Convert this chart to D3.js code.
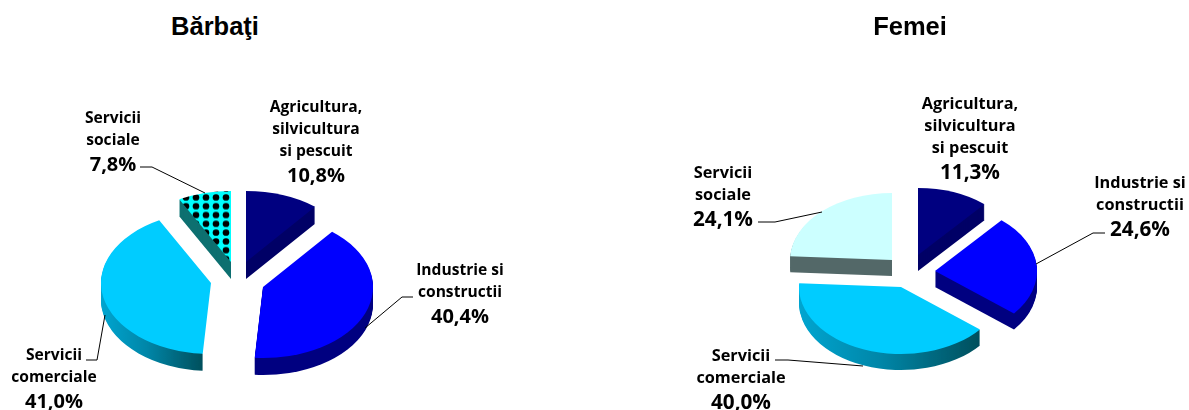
<!DOCTYPE html>
<html lang="en">

<head>
  <title></title>
  <meta charset="UTF-8">
  <style>
    body {
      margin: 0;
      background: #fff;
    }
    svg {
      display: block;
    }
    .title {
      font: bold 25.5px "Liberation Sans", Arial, sans-serif;
      text-anchor: middle;
    }
    .name {
      font-family: "Open Sans", sans-serif;
      font-weight: bold;
      text-anchor: middle;
    }
    .pct {
      font-family: "Open Sans", sans-serif;
      font-weight: bold;
      text-anchor: middle;
    }
  </style>
</head>

<body>
  <div id="container"></div>
  <script src="https://cdn.jsdelivr.net/npm/d3@7/dist/d3.min.js"></script>
  <script>
    const sectors = [
      ['Agricultura,', 'silvicultura', 'si pescuit'],
      ['Industrie si', 'constructii'],
      ['Servicii', 'comerciale'],
      ['Servicii', 'sociale']
    ];
    const barbatiValues = [10.8, 40.4, 41.0, 7.8];
    const femeiValues = [11.3, 24.6, 40.0, 24.1];

    const topColors = ['#000080', '#0000ff', '#00ccff', '#ccffff'];
    const wallColors = ['#000066', '#000080', 'url(#wallGrad)', '#536868'];

    // layout of the two pies, apex = tip of each exploded slice
    const charts = [{
      title: 'Bărbaţi',
      titleX: 215,
      values: barbatiValues,
      rx: 110,
      ry: 71,
      depth: 17,
      nameSize: 15.6,
      pctSize: 20,
      apex: [[246, 262], [263, 287], [211, 283], [231, 262]],
      order: [0, 3, 2, 1],
      rimOnly: [false, false, true, false],
      labels: [[316, 112], [460, 275], [54, 360], [113, 123]],
      leaders: [
        null,
        [[413, 297], [402, 297], [365, 328]],
        [[86, 360], [97, 360], [105, 315]],
        [[140, 167], [152, 167], [205, 193]]
      ],
      faces: ['#000080', '#0000ff', '#00ccff', 'url(#dots)'],
      walls: ['#000066', '#000080', 'url(#wallGrad)', '#0b6f70']
    }, {
      title: 'Femei',
      titleX: 910,
      values: femeiValues,
      rx: 102,
      ry: 67,
      depth: 16,
      nameSize: 16.3,
      pctSize: 20.7,
      apex: [[918, 255], [935, 271], [901, 287], [892, 260]],
      order: [0, 3, 1, 2],
      rimOnly: [false, false, false, false],
      labels: [[970, 109], [1140, 188], [741, 361], [723, 178]],
      leaders: [
        null,
        [[1105, 233], [1093, 233], [1036, 264]],
        [[775, 360], [788, 360], [863, 366]],
        [[758, 222], [775, 222], [822, 212]]
      ],
      faces: topColors,
      walls: wallColors
    }];

    const svg = d3.select('#container')
      .append('svg')
      .attr('width', 1189)
      .attr('height', 410);

    const defs = svg.append('defs');
    const grad = defs.append('linearGradient').attr('id', 'wallGrad');
    grad.append('stop').attr('offset', 0).attr('stop-color', '#00a5d0');
    grad.append('stop').attr('offset', 0.45).attr('stop-color', '#0086a8');
    grad.append('stop').attr('offset', 1).attr('stop-color', '#004f5c');

    const dots = defs.append('pattern')
      .attr('id', 'dots')
      .attr('patternUnits', 'userSpaceOnUse')
      .attr('x', 180)
      .attr('y', 195)
      .attr('width', 10)
      .attr('height', 8.8);
    dots.append('rect').attr('width', 10).attr('height', 8.8).attr('fill', '#00ffff');
    dots.append('circle').attr('cx', 5).attr('cy', 4.4).attr('r', 3.3).attr('fill', '#000');

    const soft = defs.append('filter').attr('id', 'soft');
    soft.append('feGaussianBlur').attr('stdDeviation', 0.5);

    const pie = d3.pie().sort(null);
    const line = d3.line();

    // slice outline on the tilted ellipse, angles from d3.pie
    function slicePath(a, rx, ry, rim) {
      const px = t => rx * Math.sin(t);
      const py = t => -ry * Math.cos(t);
      const large = a.endAngle - a.startAngle > Math.PI ? 1 : 0;
      return (rim ? 'M' : 'M0,0L') + px(a.startAngle) + ',' + py(a.startAngle) +
        'A' + rx + ',' + ry + ' 0 ' + large + ' 1 ' + px(a.endAngle) + ',' + py(a.endAngle) + 'Z';
    }

    charts.forEach(function (c) {
      svg.append('text')
        .attr('class', 'title')
        .attr('x', c.titleX)
        .attr('y', 35)
        .text(c.title);

      const arcs = pie(c.values);
      const marks = svg.append('g').attr('filter', 'url(#soft)');

      c.order.forEach(function (i) {
        const g = marks.append('g')
          .attr('transform', 'translate(' + c.apex[i][0] + ',' + c.apex[i][1] + ')');
        const d = slicePath(arcs[i], c.rx, c.ry);
        // wall: same outline repeated downwards
        g.selectAll('path.wall')
          .data(d3.range(c.depth, 0, -1))
          .join('path')
          .attr('class', 'wall')
          .attr('d', slicePath(arcs[i], c.rx, c.ry, c.rimOnly[i]))
          .attr('transform', v => 'translate(0,' + v + ')')
          .attr('fill', c.walls[i]);
        g.append('path').attr('d', d).attr('fill', c.faces[i]);
      });

      c.leaders.forEach(function (pts) {
        if (!pts) return;
        svg.append('path')
          .attr('d', line(pts))
          .attr('fill', 'none')
          .attr('stroke', '#000')
          .attr('stroke-width', 1);
      });

      sectors.forEach(function (lines, i) {
        const t = svg.append('g');
        lines.forEach(function (s, j) {
          t.append('text')
            .attr('class', 'name')
            .attr('font-size', c.nameSize)
            .attr('x', c.labels[i][0])
            .attr('y', c.labels[i][1] + j * 22)
            .text(s);
        });
        t.append('text')
          .attr('class', 'pct')
          .attr('font-size', c.pctSize)
          .attr('x', c.labels[i][0])
          .attr('y', c.labels[i][1] + (lines.length - 1) * 22 + 25.5)
          .text(c.values[i].toFixed(1).replace('.', ',') + '%');
      });
    });
  </script>
</body>

</html>
